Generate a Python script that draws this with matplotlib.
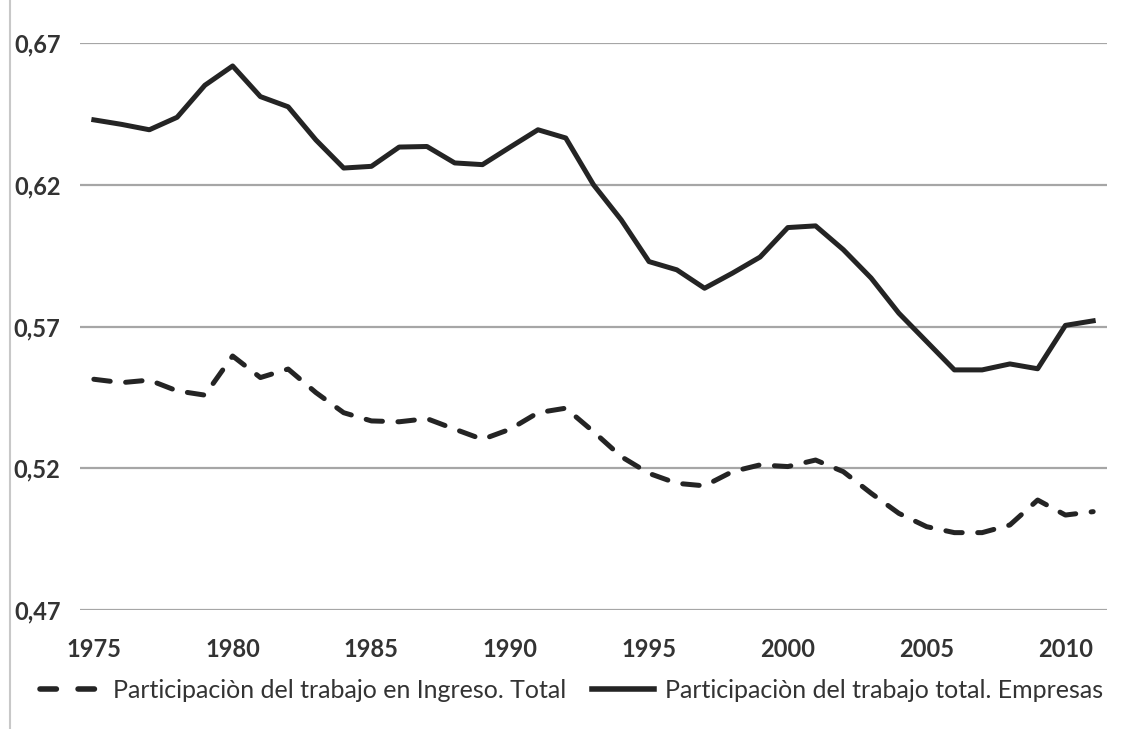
import matplotlib
matplotlib.use('Agg')
import matplotlib.pyplot as plt
from matplotlib.lines import Line2D
from matplotlib.ticker import FuncFormatter

plt.rcParams['font.family'] = ['Lato', 'DejaVu Sans']

# data
years = list(range(1975, 2012))

ingreso_total = [0.5514, 0.5502, 0.5511, 0.5473, 0.5458, 0.5596, 0.5520, 0.5550,
                 0.5467, 0.5396, 0.5367, 0.5364, 0.5375, 0.5338, 0.5302, 0.5338,
                 0.5396, 0.5412, 0.5329, 0.5241, 0.5182, 0.5147, 0.5138, 0.5188,
                 0.5212, 0.5206, 0.5229, 0.5188, 0.5112, 0.5041, 0.4994, 0.4973,
                 0.4973, 0.5000, 0.5088, 0.5035, 0.5047]

empresas_total = [0.6429, 0.6413, 0.6394, 0.6438, 0.6551, 0.6619, 0.6511, 0.6475,
                  0.6358, 0.6259, 0.6265, 0.6333, 0.6335, 0.6277, 0.6271, 0.6333,
                  0.6394, 0.6365, 0.6200, 0.6076, 0.5929, 0.5900, 0.5835, 0.5888,
                  0.5945, 0.6049, 0.6055, 0.5971, 0.5871, 0.5747, 0.5647, 0.5547,
                  0.5547, 0.5568, 0.5551, 0.5704, 0.5720]

y_ticks = [0.47, 0.52, 0.57, 0.62, 0.67]
x_ticks = [1975, 1980, 1985, 1990, 1995, 2000, 2005, 2010]

label_ingreso = 'Participaciòn del trabajo en Ingreso. Total'
label_empresas = 'Participaciòn del trabajo total. Empresas'

text_color = '#333333'
line_color = '#242424'

fig = plt.figure(figsize=(11.23, 7.29), dpi=100)
ax = fig.add_axes([0.0712, 0.1632, 0.9146, 0.7778])

ax.plot(years, ingreso_total, color=line_color, lw=3.6,
        linestyle=(0, (3.3, 3.1)), dash_capstyle='round', solid_joinstyle='round')
ax.plot(years, empresas_total, color=line_color, lw=3.6, solid_joinstyle='round')

ax.set_xlim(1974.5, 2011.5)
ax.set_ylim(0.47, 0.67)
ax.set_yticks(y_ticks)
ax.set_xticks(x_ticks)
ax.yaxis.set_major_formatter(FuncFormatter(lambda v, p: f'{v:.2f}'.replace('.', ',')))

ax.grid(axis='y', color='#a6a6a6', lw=1.6)
ax.set_axisbelow(True)
for s in ax.spines.values():
    s.set_visible(False)
ax.tick_params(length=0, labelsize=17, labelcolor=text_color)
ax.tick_params(axis='x', pad=20)
ax.tick_params(axis='y', pad=14)
for lab in ax.get_xticklabels() + ax.get_yticklabels():
    lab.set_fontweight('bold')

# thin frame line on the left edge
fig.add_artist(Line2D([0.009, 0.009], [0, 1], transform=fig.transFigure,
                      color='#c8c8c8', lw=1.5))

handles = [Line2D([], [], color=line_color, lw=4, linestyle=(0, (2.95, 3.9)),
                  dash_capstyle='round'),
           Line2D([], [], color=line_color, lw=4)]
fig.legend(handles, [label_ingreso, label_empresas], loc='center',
           bbox_to_anchor=(0.509, 0.053), ncol=2, frameon=False,
           fontsize=18, labelcolor=text_color, handlelength=2.5,
           handletextpad=0.45, columnspacing=1.0)

fig.savefig('out.png', dpi=100)
